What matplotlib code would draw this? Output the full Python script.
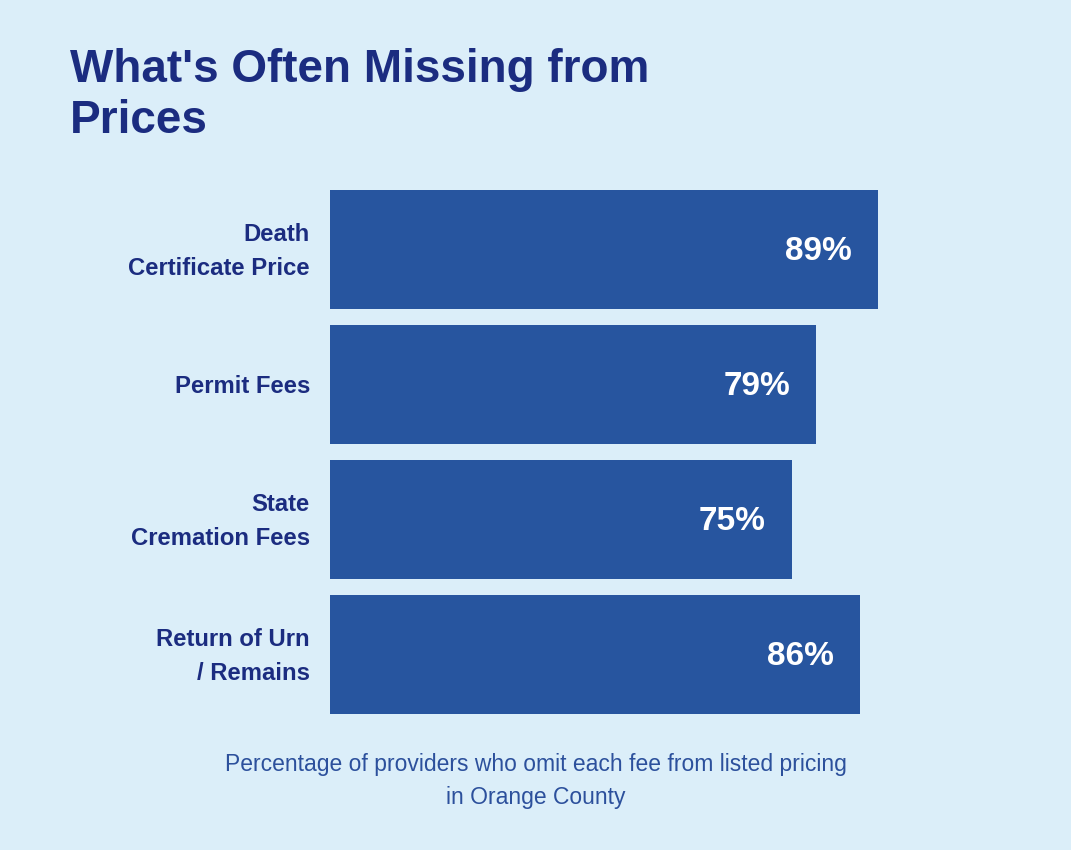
import matplotlib.pyplot as plt

# data
categories = ["Death\nCertificate Price", "Permit Fees", "State\nCremation Fees", "Return of Urn\n/ Remains"]
values = [89, 79, 75, 86]

title = "What's Often Missing from\nPrices"
caption = "Percentage of providers who omit each fee from listed pricing\nin Orange County"

BG = "#dbeef9"
BAR = "#27559f"
NAVY = "#1b2c80"
CAPTION = "#2c509c"

plt.rcParams["font.family"] = ["Liberation Sans", "DejaVu Sans"]

W, H = 1071, 850
fig = plt.figure(figsize=(W / 100, H / 100), dpi=100, facecolor=BG)

# axes placed in pixel terms: 0% at x=330, 100% at ~946, bars from y=190 to y=714
left, right = 330, 945.7
top, bottom = 190, 714
ax = fig.add_axes([left / W, 1 - bottom / H, (right - left) / W, (bottom - top) / H])
ax.set_facecolor(BG)

bar_h = 119 / 135
pad = bar_h / 2
ypos = list(range(len(categories)))
ax.barh(ypos, values, height=bar_h, color=BAR)
ax.set_xlim(0, 100)
ax.set_ylim(len(categories) - 1 + pad, -pad)
ax.set_axis_off()

for y, v, lab in zip(ypos, values, categories):
    ax.annotate(f"{v}%", xy=(v, y), xytext=(-26, -2), textcoords="offset pixels",
                ha="right", va="center", color="white", fontsize=24, fontweight="bold")
    ax.annotate(lab, xy=(0, y), xytext=(-20, -2), textcoords="offset pixels",
                ha="right", va="center", color=NAVY, fontsize=17.2, fontweight="bold",
                linespacing=1.6, multialignment="right")

fig.text(70 / W, 1 - 48 / H, title, ha="left", va="top", color=NAVY,
         fontsize=33, fontweight="bold", linespacing=1.2)
fig.text(536 / W, 1 - 781 / H, caption, ha="center", va="center", color=CAPTION,
         fontsize=16.5, linespacing=1.54)

fig.savefig("out.png", dpi=100, facecolor=BG)
